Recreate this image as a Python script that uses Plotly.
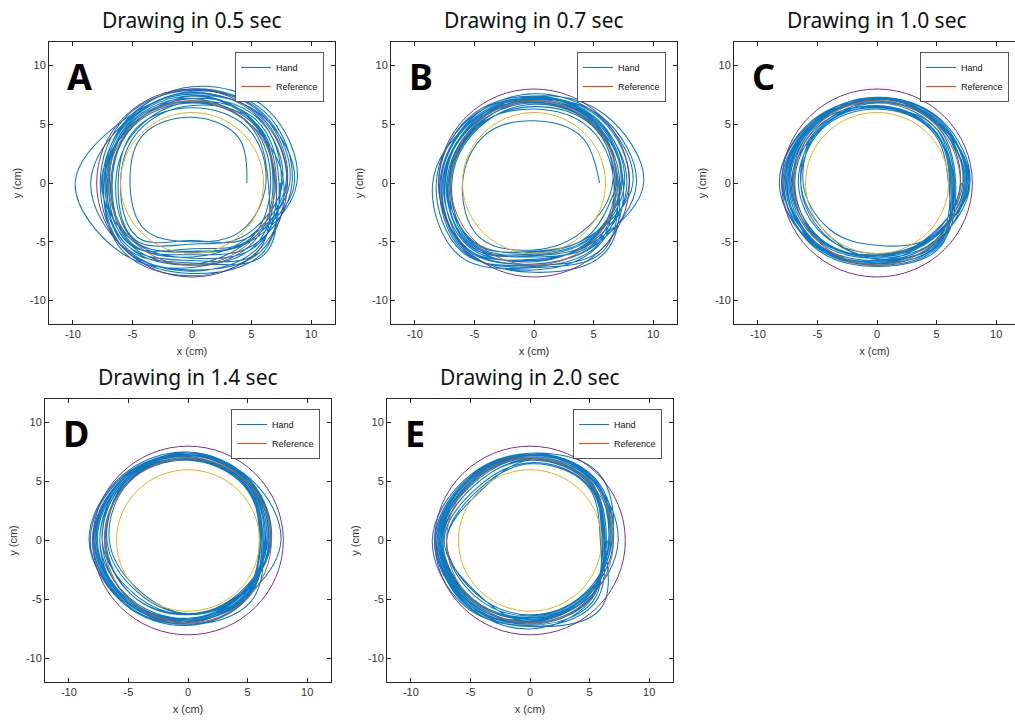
import numpy as np
import plotly.graph_objects as go

FIG_W, FIG_H = 1015, 722

PANEL_TITLES = ["Drawing in 0.5 sec", "Drawing in 0.7 sec", "Drawing in 1.0 sec",
                "Drawing in 1.4 sec", "Drawing in 2.0 sec"]
PANEL_LETTERS = ["A", "B", "C", "D", "E"]
X_LABEL = "x (cm)"
Y_LABEL = "y (cm)"
TICK_VALUES = [-10, -5, 0, 5, 10]
TICK_LABELS = ["-10", "-5", "0", "5", "10"]
AXIS_LIMITS = [-12, 12]

# Hand trajectory: radius (cm) sampled at these angles, one row per revolution
SAMPLE_ANGLES_DEG = [0, 45, 90, 135, 180, 225, 270, 315]

HAND_RADII_A = [
    [4.6, 5.5, 5.6, 5.8, 5.2, 5.6, 5.0, 5.8],
    [6.2, 6.6, 6.4, 6.6, 6.2, 6.8, 5.2, 6.3],
    [7.6, 7.8, 7.2, 7.0, 6.8, 7.3, 6.1, 7.4],
    [8.4, 8.6, 7.8, 7.4, 7.1, 7.8, 6.8, 8.6],
    [7.0, 7.4, 7.5, 7.8, 9.8, 8.4, 7.2, 7.2],
    [6.8, 7.2, 6.9, 6.5, 6.4, 6.9, 5.9, 7.0],
    [8.8, 8.9, 8.2, 7.6, 7.5, 7.6, 6.6, 8.2],
    [7.3, 7.6, 7.0, 7.2, 7.0, 7.4, 5.6, 6.8],
    [6.6, 7.0, 6.8, 6.9, 6.7, 7.2, 6.3, 6.6],
    [7.9, 8.1, 7.6, 7.6, 8.5, 7.9, 7.5, 7.8],
    [7.1, 7.4, 6.6, 6.3, 6.0, 6.5, 4.9, 6.6],
    [8.2, 8.4, 8.0, 7.7, 7.4, 8.2, 7.9, 8.0],
    [6.4, 6.9, 7.2, 7.3, 7.2, 7.4, 6.9, 6.9],
    [8.6, 8.2, 7.4, 7.0, 7.6, 7.0, 6.4, 7.6],
    [7.5, 7.9, 7.7, 7.5, 7.3, 7.6, 7.0, 7.5],
    [6.9, 7.3, 7.4, 7.4, 6.9, 7.0, 5.8, 6.9],
    [8.0, 8.3, 7.9, 7.9, 7.7, 8.0, 7.4, 8.2],
    [7.7, 7.0, 6.9, 7.1, 7.4, 8.0, 7.7, 8.4],
    [7.4],
]

HAND_RADII_B = [
    [5.5, 5.6, 5.3, 5.8, 6.0, 6.5, 5.7, 5.8],
    [6.6, 7.0, 6.8, 6.9, 7.2, 7.6, 6.0, 6.6],
    [7.3, 7.4, 7.1, 7.2, 7.5, 7.9, 6.5, 7.1],
    [9.2, 8.3, 7.4, 7.4, 8.5, 8.8, 7.2, 8.2],
    [7.0, 7.3, 7.0, 7.4, 7.8, 8.0, 6.9, 7.3],
    [7.8, 7.5, 7.2, 7.0, 7.3, 7.6, 6.2, 6.9],
    [6.8, 6.9, 6.5, 6.7, 7.0, 7.2, 5.8, 6.5],
    [8.3, 7.9, 7.6, 7.6, 7.8, 8.2, 7.4, 7.6],
    [7.2, 7.1, 6.9, 7.1, 7.6, 7.7, 6.6, 7.0],
    [8.0, 7.8, 7.3, 7.7, 8.2, 8.4, 7.0, 8.0],
    [7.5, 7.2, 7.0, 6.8, 7.1, 7.4, 6.3, 7.2],
    [6.9, 7.2, 7.2, 7.3, 7.4, 7.5, 6.7, 6.8],
    [7.6, 7.6, 7.4, 7.8, 8.0, 7.9, 6.9, 7.4],
    [8.6, 8.0, 7.1, 7.2, 7.7, 8.1, 7.6, 8.4],
    [7.1, 7.0, 6.7, 6.6, 6.9, 7.3, 6.1, 6.7],
    [7.4, 7.5, 7.3, 7.5, 7.9, 8.3, 7.1, 7.5],
    [6.7, 6.6, 6.3, 6.8, 7.3, 7.1, 5.9, 6.4],
    [7.0],
]

HAND_RADII_C = [
    [6.5, 6.8, 6.8, 6.6, 7.2, 6.8, 6.2, 6.5],
    [7.4, 7.1, 7.0, 7.4, 8.0, 7.2, 6.6, 7.0],
    [7.8, 7.3, 7.2, 7.5, 8.2, 7.4, 6.9, 7.3],
    [6.2, 6.5, 6.4, 6.7, 6.2, 5.6, 5.3, 6.5],
    [7.8, 7.6, 7.3, 7.4, 7.8, 7.6, 7.1, 7.6],
    [6.0, 6.4, 6.3, 6.5, 6.4, 6.2, 6.3, 6.3],
    [7.2, 7.3, 6.9, 7.2, 7.6, 7.2, 6.8, 7.1],
    [7.5, 7.4, 7.1, 7.3, 7.7, 7.3, 6.8, 7.4],
    [6.3, 6.6, 6.6, 6.8, 6.4, 6.0, 6.5, 6.6],
    [7.7, 7.2, 7.0, 7.6, 8.2, 7.5, 7.0, 7.5],
    [6.6, 7.0, 6.9, 6.8, 6.9, 6.8, 6.3, 6.7],
    [7.5, 7.5, 7.2, 7.2, 7.5, 7.4, 6.7, 7.2],
    [6.4, 6.5, 6.5, 7.1, 7.1, 6.9, 6.1, 6.6],
    [7.6, 7.3, 7.3, 7.4, 7.9, 7.5, 6.9, 7.3],
    [6.5, 6.8, 6.4, 6.9, 7.0, 6.7, 6.2, 6.6],
    [7.3, 7.1, 7.0, 7.2, 7.4, 7.2, 6.6, 7.1],
    [6.1, 6.6, 6.5, 6.6, 6.6, 6.3, 6.0, 6.4],
    [7.0, 7.2, 7.1, 7.1, 7.3, 7.0, 6.4, 6.9],
    [7.1],
]

HAND_RADII_D = [
    [6.2, 6.8, 7.1, 7.4, 7.6, 7.1, 6.6, 6.4],
    [6.6, 7.1, 7.3, 7.6, 7.9, 7.4, 6.9, 6.8],
    [6.0, 6.7, 6.9, 7.1, 7.0, 6.6, 6.2, 6.3],
    [6.9, 7.3, 7.5, 7.8, 8.3, 7.5, 7.2, 7.0],
    [6.4, 7.0, 7.2, 7.5, 7.7, 7.2, 6.8, 6.6],
    [6.1, 6.6, 6.8, 7.0, 6.6, 5.9, 6.2, 6.3],
    [6.7, 7.2, 7.4, 7.6, 8.0, 7.6, 7.0, 6.8],
    [7.8, 7.4, 7.2, 7.4, 7.4, 7.3, 7.1, 7.4],
    [6.3, 6.9, 7.0, 7.3, 7.2, 7.0, 6.7, 6.5],
    [6.8, 7.1, 7.3, 7.7, 8.2, 7.6, 7.2, 6.9],
    [6.2, 6.8, 6.9, 7.2, 6.9, 6.6, 6.3, 6.4],
    [7.0, 7.3, 7.4, 7.5, 7.8, 7.3, 6.9, 6.8],
    [6.5, 7.0, 7.2, 7.4, 7.6, 7.2, 6.6, 6.6],
    [6.0, 6.7, 6.8, 7.1, 6.8, 6.1, 6.2, 6.2],
    [6.7, 7.2, 7.3, 7.6, 7.9, 7.1, 6.8, 6.9],
    [6.4, 7.0, 7.5, 7.3, 7.2, 6.4, 6.3, 6.5],
    [6.9, 7.2, 7.2, 7.5, 8.0, 7.5, 7.1, 7.0],
    [6.3, 6.8, 7.0, 7.2, 7.4, 6.9, 6.6, 6.5],
    [6.6, 7.1, 7.4, 7.6, 7.8, 7.3, 6.9, 6.7],
    [6.5],
]

HAND_RADII_E = [
    [6.2, 7.2, 7.1, 7.0, 7.6, 7.3, 6.8, 6.8],
    [6.6, 7.5, 7.3, 7.3, 7.9, 7.5, 7.1, 7.1],
    [6.0, 6.9, 6.8, 5.9, 7.0, 6.6, 6.4, 6.5],
    [6.9, 8.1, 7.4, 7.5, 8.2, 7.8, 7.3, 8.3],
    [6.3, 7.1, 7.0, 6.9, 7.4, 7.0, 6.7, 6.7],
    [7.0, 7.4, 7.2, 7.2, 7.7, 7.4, 7.0, 7.0],
    [6.1, 6.8, 6.6, 6.3, 7.2, 6.3, 6.9, 6.6],
    [6.6, 7.3, 7.3, 7.4, 8.0, 7.6, 7.5, 7.2],
    [6.2, 7.0, 6.9, 6.6, 7.4, 7.0, 6.6, 6.7],
    [7.0, 7.6, 7.4, 7.3, 7.8, 7.7, 7.2, 7.4],
    [5.9, 6.7, 6.5, 6.1, 7.0, 6.4, 6.3, 6.4],
    [6.7, 7.4, 7.2, 7.1, 7.6, 7.2, 7.0, 7.0],
    [6.4, 7.1, 7.0, 7.0, 7.5, 7.3, 6.8, 6.9],
    [7.4, 7.3, 7.1, 7.2, 7.8, 7.5, 7.3, 7.6],
    [6.2, 6.9, 6.8, 6.6, 7.3, 6.9, 6.5, 6.6],
    [6.8, 7.5, 7.3, 7.2, 7.7, 7.4, 7.1, 7.1],
    [6.3, 7.0, 7.0, 6.8, 7.5, 7.1, 6.9, 6.8],
    [6.5],
]

HAND_RADII = [HAND_RADII_A, HAND_RADII_B, HAND_RADII_C, HAND_RADII_D, HAND_RADII_E]

# reference circles (cm)
REFERENCE_RADII = [8, 7, 6]

# ---------------- styling / layout ----------------
HAND_COLOR = "#0072BD"
REFERENCE_COLORS = ["#7E2F8E", "#D95319", "#EDB120"]
LEGEND_REF_COLOR = "#D95319"
FRAME_COLOR = "#262626"
TEXT_COLOR = "#333333"

# axes boxes in pixels: left, right, top, bottom
PANEL_BOXES_PX = [
    (49, 335, 42, 324),
    (391, 677, 42, 324),
    (734, 1020, 42, 324),
    (45, 331, 399, 682),
    (387, 673, 399, 682),
]


def px_x(v):
    return v / FIG_W


def px_y(v):
    return 1 - v / FIG_H


def hand_path(loops):
    radii, angles = [], []
    for loop in loops:
        radii.extend(loop)
        angles.extend(SAMPLE_ANGLES_DEG[:len(loop)])
    r = np.array(radii, dtype=float)
    th = np.deg2rad(np.array(angles, dtype=float))
    return r * np.cos(th), r * np.sin(th)


fig = go.Figure()
layout = dict(
    width=FIG_W, height=FIG_H, autosize=False,
    margin=dict(l=0, r=0, t=0, b=0, pad=0),
    paper_bgcolor="white", plot_bgcolor="white",
    showlegend=True,
)
shapes, annotations = [], []

for i, (left, right, top, bottom) in enumerate(PANEL_BOXES_PX):
    n = "" if i == 0 else str(i + 1)
    xref, yref = f"x{n}", f"y{n}"
    legend_id = "legend" if i == 0 else f"legend{i + 1}"

    x_end = min(right, FIG_W)
    span = AXIS_LIMITS[1] - AXIS_LIMITS[0]
    x_range = [AXIS_LIMITS[0], AXIS_LIMITS[0] + span * (x_end - left) / (right - left)]

    hx, hy = hand_path(HAND_RADII[i])
    fig.add_trace(go.Scatter(
        x=hx, y=hy, mode="lines", name="Hand",
        line=dict(color=HAND_COLOR, width=1.05, shape="spline", smoothing=1.1),
        opacity=0.95, xaxis=xref, yaxis=yref, legend=legend_id, hoverinfo="skip",
    ))
    fig.add_trace(go.Scatter(
        x=[None], y=[None], mode="lines", name="Reference",
        line=dict(color=LEGEND_REF_COLOR, width=1.2),
        xaxis=xref, yaxis=yref, legend=legend_id,
    ))

    for rad, col in zip(REFERENCE_RADII, REFERENCE_COLORS):
        shapes.append(dict(type="circle", xref=xref, yref=yref,
                           x0=-rad, x1=rad, y0=-rad, y1=rad,
                           line=dict(color=col, width=1), layer="above"))

    tickfont = dict(family="Liberation Sans, Arial, sans-serif", size=11, color=TEXT_COLOR)
    common = dict(tickvals=TICK_VALUES, ticktext=TICK_LABELS, ticks="inside", ticklen=4,
                  tickwidth=1, tickcolor=FRAME_COLOR, showline=True, linecolor=FRAME_COLOR,
                  linewidth=1, showgrid=False, zeroline=False, tickfont=tickfont,
                  automargin=False, fixedrange=True)
    layout[f"xaxis{n}"] = dict(
        common, domain=[px_x(left), px_x(x_end)], range=x_range, anchor=yref,
        mirror="ticks",
        title=dict(text=X_LABEL, font=tickfont, standoff=8),
    )
    layout[f"yaxis{n}"] = dict(
        common, domain=[px_y(bottom), px_y(top)], range=AXIS_LIMITS, anchor=xref,
        mirror="ticks" if right <= FIG_W else False,
        title=dict(text=Y_LABEL, font=tickfont, standoff=6),
    )

    layout[legend_id] = dict(
        x=px_x(min(right, FIG_W + 5) - 11), y=px_y(top + 10),
        xanchor="right", yanchor="top",
        bgcolor="white", bordercolor="#555555", borderwidth=1,
        font=dict(family="Liberation Sans, Arial, sans-serif", size=9, color="#111111"),
        tracegroupgap=0, itemwidth=30,
    )

    annotations.append(dict(
        text=PANEL_TITLES[i], xref="paper", yref="paper",
        x=px_x((left + right) / 2), y=px_y(top - 22), xanchor="center", yanchor="middle",
        showarrow=False, font=dict(family="Noto Sans, sans-serif", size=21, color="#111111"),
    ))
    annotations.append(dict(
        text=f"<b>{PANEL_LETTERS[i]}</b>", xref="paper", yref="paper",
        x=px_x(left + 16), y=px_y(top + 34), xanchor="left", yanchor="middle",
        showarrow=False, font=dict(family="Noto Sans, sans-serif", size=36, color="#000000"),
    ))

layout["shapes"] = shapes
layout["annotations"] = annotations
fig.update_layout(**layout)

fig.write_html("out.html")
